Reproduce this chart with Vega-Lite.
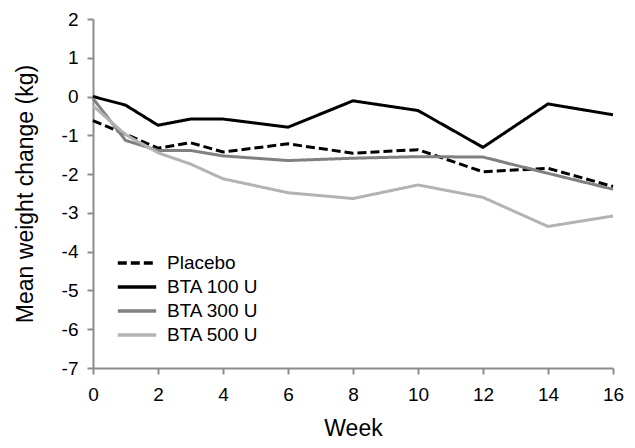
{
  "$schema": "https://vega.github.io/schema/vega-lite/v6.json",
  "width": 520,
  "height": 349,
  "autosize": {"type": "none"},
  "padding": {"left": 93, "top": 19, "right": 22, "bottom": 80},
  "background": "white",
  "config": {
    "view": {"stroke": null},
    "font": "Liberation Sans",
    "axis": {"grid": false, "domainColor": "#8c8c8c", "tickColor": "#8c8c8c", "domainWidth": 2, "tickWidth": 2, "tickSize": 6, "labelFontSize": 19, "labelColor": "#000", "titleFontSize": 23, "titleFontWeight": "normal", "titleColor": "#000", "labelFont": "Liberation Sans", "titleFont": "Liberation Sans"}
  },
  "data": {
    "values": [
      {"week": 0, "group": "Placebo", "change": -0.62},
      {"week": 1, "group": "Placebo", "change": -0.97},
      {"week": 2, "group": "Placebo", "change": -1.33},
      {"week": 3, "group": "Placebo", "change": -1.19},
      {"week": 4, "group": "Placebo", "change": -1.43},
      {"week": 6, "group": "Placebo", "change": -1.22},
      {"week": 8, "group": "Placebo", "change": -1.46},
      {"week": 10, "group": "Placebo", "change": -1.37},
      {"week": 12, "group": "Placebo", "change": -1.94},
      {"week": 14, "group": "Placebo", "change": -1.85},
      {"week": 16, "group": "Placebo", "change": -2.32},
      {"week": 0, "group": "BTA 100 U", "change": 0.0},
      {"week": 1, "group": "BTA 100 U", "change": -0.22},
      {"week": 2, "group": "BTA 100 U", "change": -0.74},
      {"week": 3, "group": "BTA 100 U", "change": -0.58},
      {"week": 4, "group": "BTA 100 U", "change": -0.58},
      {"week": 6, "group": "BTA 100 U", "change": -0.79},
      {"week": 8, "group": "BTA 100 U", "change": -0.11},
      {"week": 10, "group": "BTA 100 U", "change": -0.36},
      {"week": 12, "group": "BTA 100 U", "change": -1.31},
      {"week": 14, "group": "BTA 100 U", "change": -0.19},
      {"week": 16, "group": "BTA 100 U", "change": -0.47},
      {"week": 0, "group": "BTA 300 U", "change": -0.05},
      {"week": 1, "group": "BTA 300 U", "change": -1.13},
      {"week": 2, "group": "BTA 300 U", "change": -1.39},
      {"week": 3, "group": "BTA 300 U", "change": -1.39},
      {"week": 4, "group": "BTA 300 U", "change": -1.53},
      {"week": 6, "group": "BTA 300 U", "change": -1.65},
      {"week": 8, "group": "BTA 300 U", "change": -1.59},
      {"week": 10, "group": "BTA 300 U", "change": -1.55},
      {"week": 12, "group": "BTA 300 U", "change": -1.56},
      {"week": 14, "group": "BTA 300 U", "change": -1.98},
      {"week": 16, "group": "BTA 300 U", "change": -2.39},
      {"week": 0, "group": "BTA 500 U", "change": -0.24},
      {"week": 1, "group": "BTA 500 U", "change": -0.98},
      {"week": 2, "group": "BTA 500 U", "change": -1.45},
      {"week": 3, "group": "BTA 500 U", "change": -1.74},
      {"week": 4, "group": "BTA 500 U", "change": -2.12},
      {"week": 6, "group": "BTA 500 U", "change": -2.48},
      {"week": 8, "group": "BTA 500 U", "change": -2.63},
      {"week": 10, "group": "BTA 500 U", "change": -2.28},
      {"week": 12, "group": "BTA 500 U", "change": -2.6},
      {"week": 14, "group": "BTA 500 U", "change": -3.35},
      {"week": 16, "group": "BTA 500 U", "change": -3.08}
    ]
  },
  "mark": {"type": "line", "strokeWidth": 3, "strokeJoin": "miter"},
  "encoding": {
    "x": {
      "field": "week", "type": "quantitative",
      "scale": {"domain": [0, 16], "nice": false},
      "axis": {"values": [0, 2, 4, 6, 8, 10, 12, 14, 16], "title": "Week", "labelPadding": 11, "titlePadding": 13, "labelFlush": false}
    },
    "y": {
      "field": "change", "type": "quantitative",
      "scale": {"domain": [-7, 2], "nice": false, "zero": false},
      "axis": {"values": [-7, -6, -5, -4, -3, -2, -1, 0, 1, 2], "title": "Mean weight change (kg)", "labelPadding": 9, "titlePadding": 24, "labelFlush": false, "labelExpr": "datum.value < 0 ? '-' + abs(datum.value) : '' + datum.value"}
    },
    "color": {
      "field": "group", "type": "nominal",
      "scale": {"domain": ["Placebo", "BTA 100 U", "BTA 300 U", "BTA 500 U"], "range": ["#000000", "#000000", "#808080", "#b3b3b3"]},
      "legend": {
        "title": null, "orient": "none", "legendX": 30, "legendY": 230,
        "symbolType": "M-1.6,0H1.6", "symbolSize": 576, "symbolStrokeWidth": 3.5, "symbolFillColor": "transparent",
        "labelFontSize": 19, "labelFont": "Liberation Sans", "labelColor": "#000",
        "rowPadding": 0, "labelOffset": 16
      }
    },
    "strokeDash": {
      "field": "group", "type": "nominal",
      "scale": {"domain": ["Placebo", "BTA 100 U", "BTA 300 U", "BTA 500 U"], "range": [[9, 4], [1, 0], [1, 0], [1, 0]]},
      "legend": {
        "title": null, "orient": "none", "legendX": 30, "legendY": 230,
        "symbolType": "M-1.6,0H1.6", "symbolSize": 576, "symbolStrokeWidth": 3.5, "symbolFillColor": "transparent",
        "labelFontSize": 19, "labelFont": "Liberation Sans", "labelColor": "#000",
        "rowPadding": 0, "labelOffset": 16
      }
    }
  }
}
